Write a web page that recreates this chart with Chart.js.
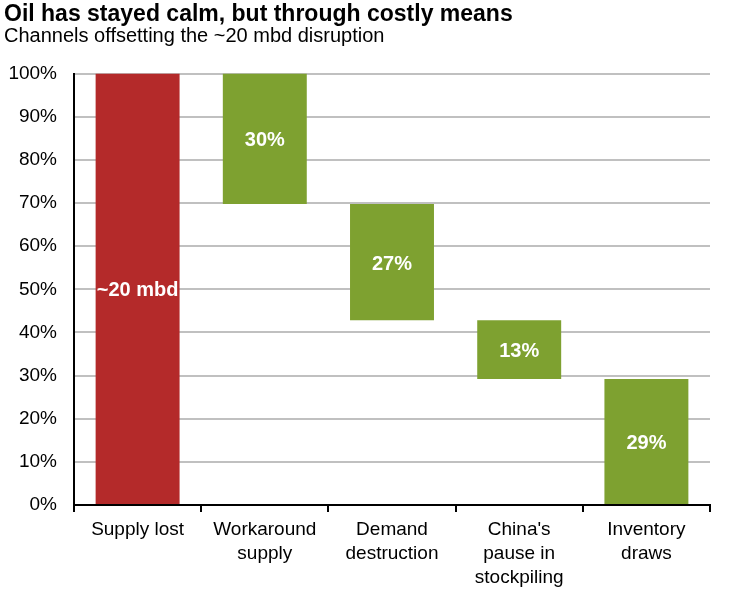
<!DOCTYPE html>
<html>
<head>
<meta charset="utf-8">
<script src="https://cdn.jsdelivr.net/npm/chart.js@4"></script>
<style>
  html, body { margin: 0; padding: 0; background: #fff; }
  #wrap { position: relative; width: 744px; height: 591px; }
</style>
</head>
<body>
<div id="wrap"><canvas id="graphOil" width="744" height="591"></canvas></div>
<script>
var categories = [
	['Supply lost'],
	['Workaround', 'supply'],
	['Demand', 'destruction'],
	["China's", 'pause in', 'stockpiling'],
	['Inventory', 'draws']
]
var supplyLost = 100
var channelShares = [30.2, 27.0, 13.6, 29.2]
var barLabels = ['~20 mbd', '30%', '27%', '13%', '29%']
var yTicks = [0, 10, 20, 30, 40, 50, 60, 70, 80, 90, 100]

// floating bars for the waterfall
var ranges = [[0, supplyLost]]
var level = supplyLost
channelShares.forEach(function (value) {
	ranges.push([level - value, level])
	level = level - value
})

var colors = ranges.map(function (r, i) {
	return i == 0 ? 'rgb(180, 42, 42)' : 'rgb(126, 161, 48)'
})

// white labels inside the bars
var barText = {
	id: 'barText',
	afterDatasetsDraw: function (chart) {
		var ctx = chart.ctx
		var meta = chart.getDatasetMeta(0)
		ctx.save()
		ctx.fillStyle = '#fff'
		ctx.textAlign = 'center'
		ctx.textBaseline = 'middle'
		ctx.font = 'bold 20px "Liberation Sans", Arial, sans-serif'
		meta.data.forEach(function (bar, i) {
			ctx.fillText(barLabels[i], bar.x, (bar.y + bar.base) / 2 + 2)
		})
		ctx.restore()
	}
}

Chart.defaults.font.family = '"Liberation Sans", Arial, sans-serif'
Chart.defaults.color = '#000'

var ctx = document.getElementById('graphOil').getContext('2d');
var myChart = new Chart(ctx, {
	type: 'bar',
	data: {
		labels: categories,
		datasets: [{
			data: ranges,
			backgroundColor: colors,
			borderWidth: 0,
			categoryPercentage: 1,
			barPercentage: 0.66
		}]
	},
	options: {
		responsive: false,
		animation: false,
		layout: { padding: { left: 4, right: 34, top: 0, bottom: 0 } },
		plugins: {
			legend: { display: false },
			tooltip: { enabled: false },
			title: {
				display: true,
				text: 'Oil has stayed calm, but through costly means',
				align: 'start',
				color: '#000',
				font: { size: 23, weight: 'bold', lineHeight: 1.2 },
				padding: { top: 1, bottom: 0 }
			},
			subtitle: {
				display: true,
				text: 'Channels offsetting the ~20 mbd disruption',
				align: 'start',
				color: '#000',
				font: { size: 20, lineHeight: 0.8 },
				padding: { top: 0, bottom: 29 }
			}
		},
		scales: {
			x: {
				grid: {
					offset: true,
					drawOnChartArea: false,
					color: '#000',
					lineWidth: 2,
					tickLength: 7
				},
				border: { color: '#000', width: 2 },
				ticks: { font: { size: 19, lineHeight: 1.25 }, padding: 6, maxRotation: 0 },
				afterFit: function (scale) { scale.height = 86 }
			},
			y: {
				min: 0,
				max: 100,
				afterBuildTicks: function (scale) {
					scale.ticks = yTicks.map(function (v) { return { value: v } })
				},
				grid: { color: '#c0c0c0', lineWidth: 2, drawTicks: false },
				border: { color: '#000', width: 2 },
				ticks: {
					font: { size: 19 },
					padding: 17,
					callback: function (v) { return v + '%' }
				},
				afterFit: function (scale) { scale.width = 70 }
			}
		}
	},
	plugins: [barText]
})
</script>
</body>
</html>
